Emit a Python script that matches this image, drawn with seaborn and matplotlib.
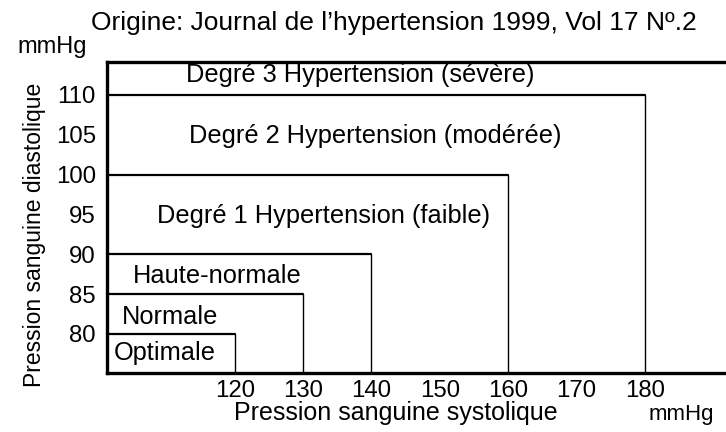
import matplotlib
matplotlib.use("Agg")
import matplotlib.pyplot as plt
import seaborn as sns
import pandas as pd

# classification thresholds (mmHg)
categories = [
    "Optimale",
    "Normale",
    "Haute-normale",
    "Degré 1 Hypertension (faible)",
    "Degré 2 Hypertension (modérée)",
    "Degré 3 Hypertension (sévère)",
]
systolic_limits = [120, 130, 140, 160, 180]
diastolic_limits = [80, 85, 90, 100, 110]
x_ticks = [120, 130, 140, 150, 160, 170, 180]
y_ticks = [80, 85, 90, 95, 100, 105, 110]

sns.set_style("white")
plt.rcParams["font.family"] = ["Liberation Sans", "DejaVu Sans"]
plt.rcParams["text.color"] = "black"
plt.rcParams["xtick.color"] = "black"
plt.rcParams["ytick.color"] = "black"
FS = 18.3

fig = plt.figure(figsize=(7.26, 4.32), dpi=100)
ax = fig.add_axes([0.1474, 0.1366, 0.8526, 0.7199])
X0, X1 = 101.3, 191.9
Y0, Y1 = 75.1, 114.14

# box outlines: top edge (a bit heavier) and right edge
for sx, dy in zip(systolic_limits, diastolic_limits):
    top = pd.DataFrame({"x": [X0, sx], "y": [dy, dy]})
    side = pd.DataFrame({"x": [sx, sx], "y": [dy, Y0]})
    sns.lineplot(data=top, x="x", y="y", sort=False, estimator=None,
                 color="black", lw=1.6, ax=ax)
    sns.lineplot(data=side, x="x", y="y", sort=False, estimator=None,
                 color="black", lw=1.0, ax=ax)

ax.set_xlim(X0, X1)
ax.set_ylim(Y0, Y1)
ax.set_xticks(x_ticks)
ax.set_yticks(y_ticks)
ax.tick_params(length=0, labelsize=17.3, colors="black", labelcolor="black")
ax.tick_params(axis="x", pad=5)
ax.tick_params(axis="y", pad=8)
for s in ["left", "bottom", "top"]:
    ax.spines[s].set_color("black")
    ax.spines[s].set_linewidth(2.4)
ax.spines["right"].set_visible(False)
ax.set_xlabel("")
ax.set_ylabel("")

# category labels
kw = dict(fontsize=FS, va="baseline", ha="center", color="black")
ax.text(109.8, 76.7, categories[0], **kw)
ax.text(110.5, 81.2, categories[1], **kw)
ax.text(117.5, 86.4, categories[2], **kw)
ax.text(133.0, 93.9, categories[3], **kw)
ax.text(140.5, 104.0, categories[4], **kw)
ax.text(138.4, 111.6, categories[5], **kw)

fig.text(0.543, 0.9306, "Origine: Journal de l\u2019hypertension 1999, Vol 17 N\u00ba.2",
         fontsize=19, ha="center", va="baseline", color="black")
fig.text(0.0716, 0.877, "mmHg", fontsize=17, ha="center", va="baseline", color="black")
fig.text(0.048, 0.456, "Pression sanguine diastolique", fontsize=16.5,
         rotation=90, ha="center", va="center", color="black")
fig.text(0.545, 0.028, "Pression sanguine systolique", fontsize=18,
         ha="center", va="baseline", color="black")
fig.text(0.938, 0.028, "mmHg", fontsize=16, ha="center", va="baseline", color="black")

fig.savefig("out.png", dpi=100)
